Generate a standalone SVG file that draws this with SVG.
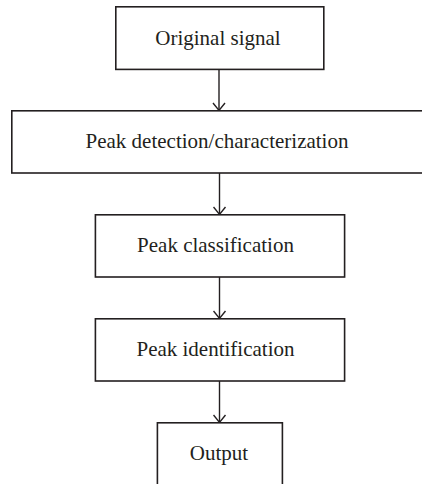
<svg xmlns="http://www.w3.org/2000/svg" width="422" height="484" viewBox="0 0 422 484">
<style>
.box{fill:#fff;stroke:#231f20;stroke-width:1.6}
.lbl{font-family:"Liberation Serif","Times New Roman",serif;font-size:21px;fill:#231f20;text-anchor:middle}
.conn{stroke:#231f20;stroke-width:1.4;fill:none}
</style>
<defs>
<marker id="arr" viewBox="0 0 10 14" refX="8.5" refY="7" markerWidth="10" markerHeight="14" markerUnits="userSpaceOnUse" orient="auto">
<path d="M1,1 L8.5,7 L1,13" fill="none" stroke="#231f20" stroke-width="1.4"/>
</marker>
</defs>
<rect width="422" height="484" fill="#fff"/>
<g id="connectors">
<line class="conn" x1="219" y1="69.5" x2="219" y2="110.5" marker-end="url(#arr)"/>
<line class="conn" x1="219.5" y1="173" x2="219.5" y2="214.5" marker-end="url(#arr)"/>
<line class="conn" x1="219.5" y1="277" x2="219.5" y2="318.5" marker-end="url(#arr)"/>
<line class="conn" x1="219.5" y1="381" x2="219.5" y2="422.5" marker-end="url(#arr)"/>
</g>
<g id="original">
<rect class="box" x="115.8" y="6.8" width="208" height="62.6"/>
<text class="lbl" x="218" y="45">Original signal</text>
</g>
<g id="detection">
<rect class="box" x="11.8" y="110.8" width="420" height="62.2"/>
<text class="lbl" x="217" y="148">Peak detection/characterization</text>
</g>
<g id="classification">
<rect class="box" x="95.4" y="214.8" width="249.2" height="62.2"/>
<text class="lbl" x="215.5" y="252">Peak classification</text>
</g>
<g id="identification">
<rect class="box" x="95.4" y="318.8" width="249.2" height="62.2"/>
<text class="lbl" x="215.5" y="356">Peak identification</text>
</g>
<g id="output">
<rect class="box" x="157.4" y="422.8" width="125" height="80"/>
<text class="lbl" x="219" y="459.5">Output</text>
</g>
</svg>
